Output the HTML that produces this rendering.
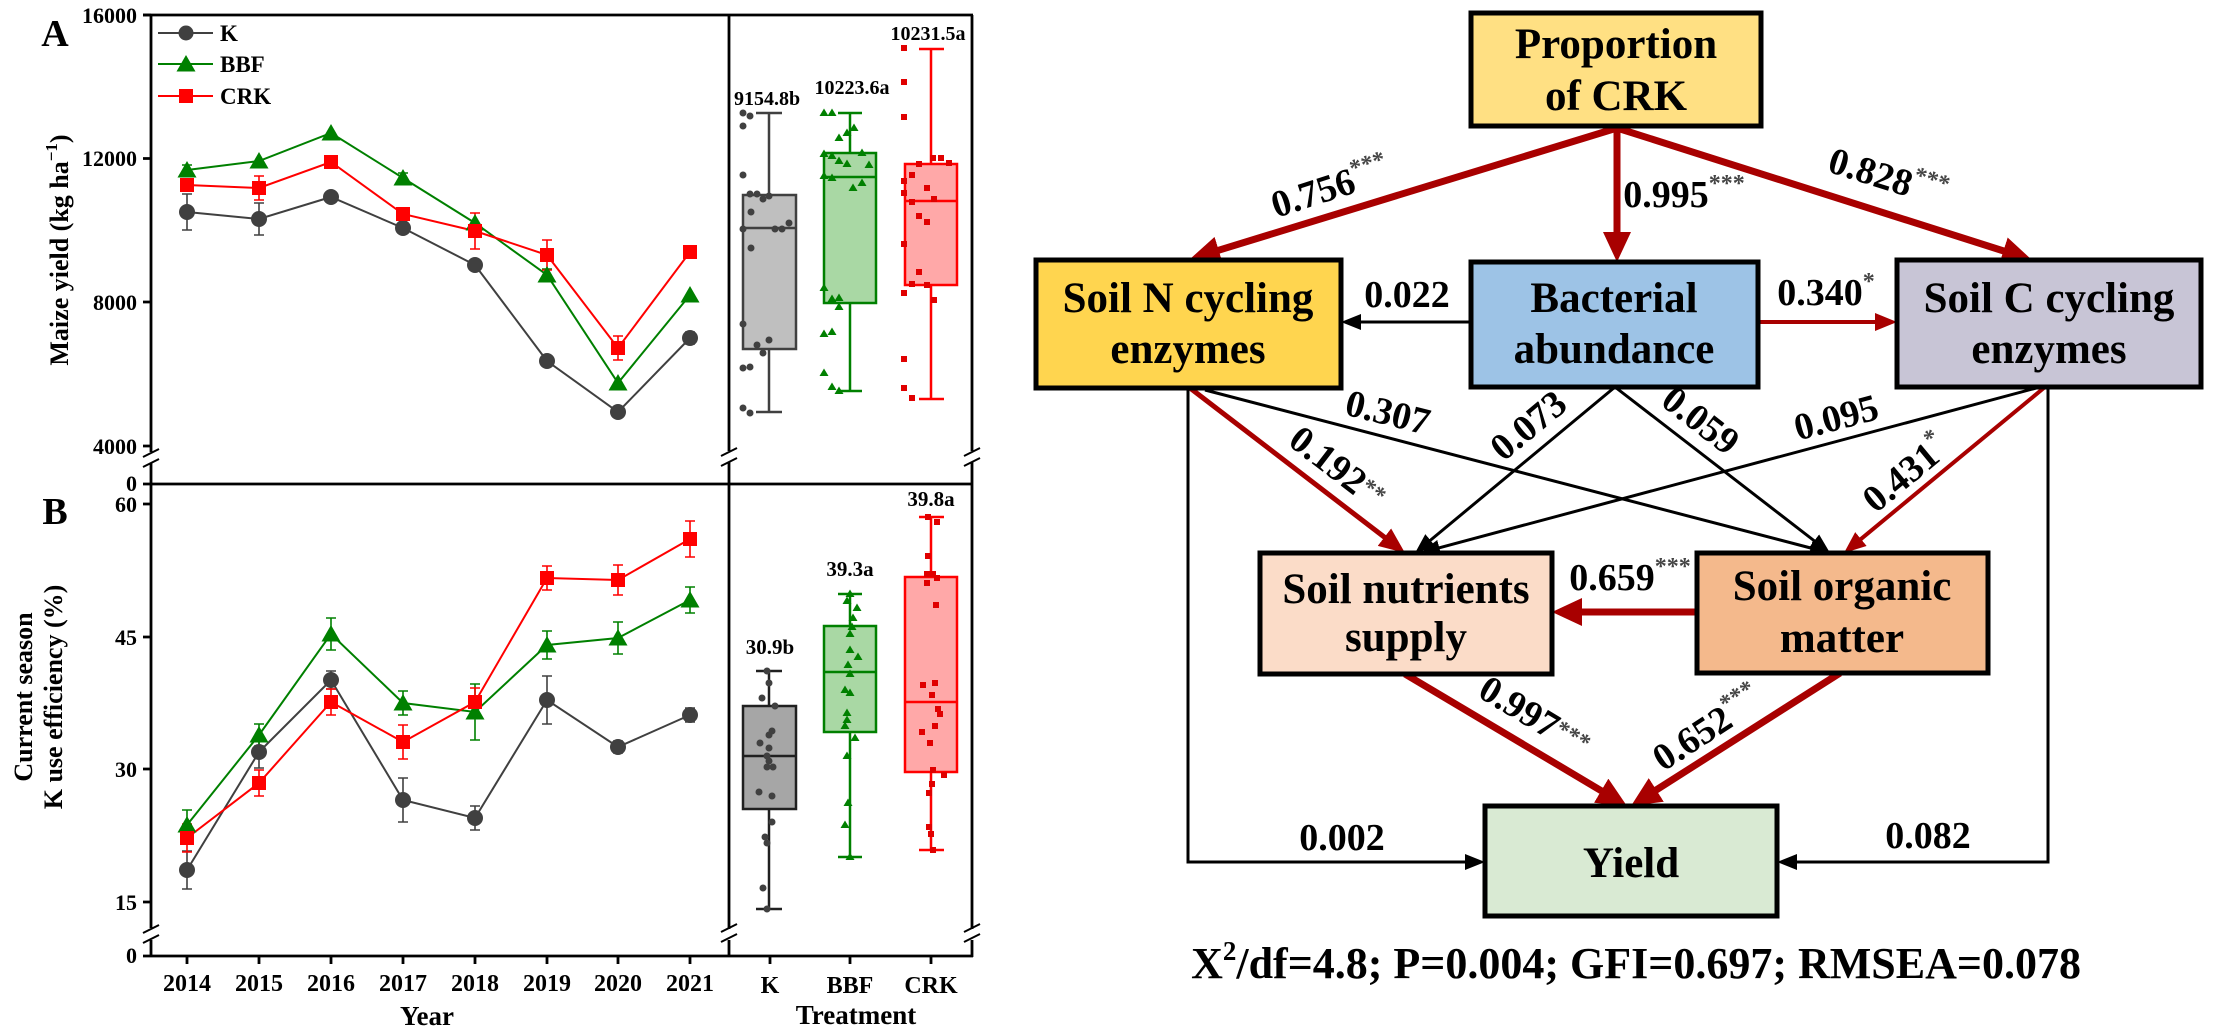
<!DOCTYPE html>
<html><head><meta charset="utf-8"><style>
html,body{margin:0;padding:0;background:#fff;}
svg{display:block;}
text{font-family:"Liberation Serif",serif;font-weight:bold;}
</style></head><body>
<svg width="2213" height="1032" viewBox="0 0 2213 1032" xmlns="http://www.w3.org/2000/svg">
<defs>
<path id="triL" d="M0,-10 L9.5,6.5 L-9.5,6.5z"/>
<path id="triS" d="M0,-4.5 L4.5,3 L-4.5,3z"/>
<marker id="rb" markerUnits="userSpaceOnUse" markerWidth="32" markerHeight="30" refX="2" refY="14" orient="auto"><path d="M0,0 L30,14 L0,28z" fill="#a80000"/></marker>
<marker id="rm" markerUnits="userSpaceOnUse" markerWidth="28" markerHeight="24" refX="2" refY="11" orient="auto"><path d="M0,0 L26,11 L0,22z" fill="#a80000"/></marker>
<marker id="rs" markerUnits="userSpaceOnUse" markerWidth="24" markerHeight="20" refX="2" refY="9" orient="auto"><path d="M0,0 L22,9 L0,18z" fill="#a80000"/></marker>
<marker id="bk" markerUnits="userSpaceOnUse" markerWidth="22" markerHeight="18" refX="2" refY="8" orient="auto"><path d="M0,0 L20,8 L0,16z" fill="#000"/></marker>
</defs>

<!-- ===== LEFT CHARTS ===== -->
<g stroke="#000" stroke-width="2.8" fill="none">
<path d="M143 15H973M143 484H973M143 956H973"/>
<path d="M151 15V452M151 463V928M151 940V957"/>
<path d="M729 15V451M729 462V929M729 940V957"/>
<path d="M972 15V451M972 462V929M972 940V957"/>
<path d="M143 457L159 449M143 467L159 459M143 933L159 925M143 943L159 935" stroke-width="2"/>
<path d="M721 456L737 448M721 466L737 458M721 932L737 924M721 942L737 934" stroke-width="2"/>
<path d="M964 456L980 448M964 466L980 458M964 932L980 924M964 942L980 934" stroke-width="2"/>
<path d="M143 15H151M143 158.5H151M143 302H151M143 446H151M143 504H151M143 637H151M143 769H151M143 902H151"/>
<path d="M187 956V964M259 956V964M331 956V964M403 956V964M475 956V964M547 956V964M618 956V964M690 956V964M770 956V964M850 956V964M931 956V964"/>
</g>
<g font-size="22" text-anchor="end" fill="#000">
<text x="137" y="23">16000</text>
<text x="137" y="166">12000</text>
<text x="137" y="310">8000</text>
<text x="137" y="454">4000</text>
<text x="137" y="491">0</text>
<text x="137" y="512">60</text>
<text x="137" y="645">45</text>
<text x="137" y="777">30</text>
<text x="137" y="910">15</text>
<text x="137" y="963">0</text>
</g>
<g font-size="24" text-anchor="middle">
<text x="187" y="991">2014</text><text x="259" y="991">2015</text><text x="331" y="991">2016</text><text x="403" y="991">2017</text>
<text x="475" y="991">2018</text><text x="547" y="991">2019</text><text x="618" y="991">2020</text><text x="690" y="991">2021</text>
<text x="770" y="993">K</text><text x="850" y="993">BBF</text><text x="931" y="993">CRK</text>
<text x="427" y="1025" font-size="27">Year</text>
<text x="856" y="1024" font-size="27">Treatment</text>
</g>
<text x="55" y="46" font-size="38" text-anchor="middle">A</text>
<text x="55" y="524" font-size="38" text-anchor="middle">B</text>
<text transform="translate(68,250) rotate(-90)" font-size="26" text-anchor="middle">Maize yield (kg ha<tspan font-size="17" dy="-11">−1</tspan><tspan dy="11">)</tspan></text>
<text transform="translate(32,697) rotate(-90)" font-size="26" text-anchor="middle">Current season</text>
<text transform="translate(62,697) rotate(-90)" font-size="26" text-anchor="middle">K use efficiency (%)</text>

<!-- legend -->
<g stroke-width="2">
<line x1="158" y1="33" x2="213" y2="33" stroke="#404040"/>
<line x1="158" y1="64" x2="213" y2="64" stroke="#008000"/>
<line x1="158" y1="96" x2="213" y2="96" stroke="#ff0000"/>
</g>
<circle cx="186" cy="33" r="7.5" fill="#404040"/>
<use href="#triL" x="186" y="65" fill="#008000"/>
<rect x="179" y="89" width="14" height="14" fill="#ff0000"/>
<g font-size="23"><text x="220" y="41">K</text><text x="220" y="72">BBF</text><text x="220" y="104">CRK</text></g>

<!-- Panel A lines -->
<g fill="none" stroke-width="2">
<polyline stroke="#404040" points="187,212 259,219 331,197 403,228 475,265 547,361 618,412 690,338"/>
<path stroke="#404040" stroke-width="1.6" d="M187 194V230M182 194H192M182 230H192M259 203V235M254 203H264M254 235H264M331 192V202M326 192H336M326 202H336M403 224V232M398 224H408M398 232H408M475 261V269M470 261H480M470 269H480M547 356V366M542 356H552M542 366H552M618 408V416M613 408H623M613 416H623M690 332V344M685 332H695M685 344H695"/>
<polyline stroke="#008000" points="187,170 259,161 331,133 403,178 475,223 547,275 618,383 690,295"/>
<path stroke="#008000" stroke-width="1.6" d="M187 165V175M182 165H192M182 175H192M259 158V164M403 173V183M398 173H408M398 183H408M475 219V227M547 269V281M542 269H552M542 281H552M618 379V387M690 292V298"/>
<polyline stroke="#ff0000" points="187,185 259,188 331,162 403,214 475,231 547,255 618,348 690,252"/>
<path stroke="#ff0000" stroke-width="1.6" d="M187 179V191M182 179H192M182 191H192M259 176V200M254 176H264M254 200H264M331 158V166M403 209V219M398 209H408M398 219H408M475 213V249M470 213H480M470 249H480M547 240V270M542 240H552M542 270H552M618 336V360M613 336H623M613 360H623M690 246V258M685 246H695M685 258H695"/>
</g>
<g fill="#404040">
<circle cx="187" cy="212" r="8"/><circle cx="259" cy="219" r="8"/><circle cx="331" cy="197" r="8"/><circle cx="403" cy="228" r="8"/><circle cx="475" cy="265" r="8"/><circle cx="547" cy="361" r="8"/><circle cx="618" cy="412" r="8"/><circle cx="690" cy="338" r="8"/>
</g>
<g fill="#008000">
<use href="#triL" x="187" y="171"/><use href="#triL" x="259" y="162"/><use href="#triL" x="331" y="134"/><use href="#triL" x="403" y="179"/><use href="#triL" x="475" y="224"/><use href="#triL" x="547" y="276"/><use href="#triL" x="618" y="384"/><use href="#triL" x="690" y="296"/>
</g>
<g fill="#ff0000">
<rect x="180" y="178" width="14" height="14"/><rect x="252" y="181" width="14" height="14"/><rect x="324" y="155" width="14" height="14"/><rect x="396" y="207" width="14" height="14"/><rect x="468" y="224" width="14" height="14"/><rect x="540" y="248" width="14" height="14"/><rect x="611" y="341" width="14" height="14"/><rect x="683" y="245" width="14" height="14"/>
</g>

<!-- Panel B lines -->
<g fill="none" stroke-width="2">
<polyline stroke="#404040" points="187,870 259,752 331,680 403,800 475,818 547,700 618,747 690,715"/>
<path stroke="#404040" stroke-width="1.6" d="M187 851V889M182 851H192M182 889H192M259 736V768M254 736H264M254 768H264M331 671V689M326 671H336M326 689H336M403 778V822M398 778H408M398 822H408M475 806V830M470 806H480M470 830H480M547 676V724M542 676H552M542 724H552M618 741V753M613 741H623M613 753H623M690 708V722M685 708H695M685 722H695"/>
<polyline stroke="#008000" points="187,825 259,735 331,634 403,703 475,712 547,645 618,638 690,600"/>
<path stroke="#008000" stroke-width="1.6" d="M187 810V840M182 810H192M182 840H192M259 724V746M254 724H264M254 746H264M331 618V650M326 618H336M326 650H336M403 691V715M398 691H408M398 715H408M475 684V740M470 684H480M470 740H480M547 631V659M542 631H552M542 659H552M618 622V654M613 622H623M613 654H623M690 587V613M685 587H695M685 613H695"/>
<polyline stroke="#ff0000" points="187,838 259,783 331,702 403,742 475,702 547,578 618,580 690,539"/>
<path stroke="#ff0000" stroke-width="1.6" d="M187 824V852M182 824H192M182 852H192M259 770V796M254 770H264M254 796H264M331 689V715M326 689H336M326 715H336M403 725V759M398 725H408M398 759H408M475 688V716M470 688H480M470 716H480M547 566V590M542 566H552M542 590H552M618 565V595M613 565H623M613 595H623M690 521V557M685 521H695M685 557H695"/>
</g>
<g fill="#404040">
<circle cx="187" cy="870" r="8"/><circle cx="259" cy="752" r="8"/><circle cx="331" cy="680" r="8"/><circle cx="403" cy="800" r="8"/><circle cx="475" cy="818" r="8"/><circle cx="547" cy="700" r="8"/><circle cx="618" cy="747" r="8"/><circle cx="690" cy="715" r="8"/>
</g>
<g fill="#008000">
<use href="#triL" x="187" y="826"/><use href="#triL" x="259" y="736"/><use href="#triL" x="331" y="635"/><use href="#triL" x="403" y="704"/><use href="#triL" x="475" y="713"/><use href="#triL" x="547" y="646"/><use href="#triL" x="618" y="639"/><use href="#triL" x="690" y="601"/>
</g>
<g fill="#ff0000">
<rect x="180" y="831" width="14" height="14"/><rect x="252" y="776" width="14" height="14"/><rect x="324" y="695" width="14" height="14"/><rect x="396" y="735" width="14" height="14"/><rect x="468" y="695" width="14" height="14"/><rect x="540" y="571" width="14" height="14"/><rect x="611" y="573" width="14" height="14"/><rect x="683" y="532" width="14" height="14"/>
</g>

<!-- Box plots A -->
<g stroke-width="2.5">
<rect x="743" y="195" width="53" height="154" fill="#bfbfbf" stroke="#404040"/>
<path d="M743 228H796M769 113V195M769 349V412M756 113H782M756 412H782" stroke="#404040" fill="none"/>
<rect x="824" y="153" width="52" height="150" fill="#a9d8a4" stroke="#008000"/>
<path d="M824 177H876M850 113V153M850 303V391M838 113H862M838 391H862" stroke="#008000" fill="none"/>
<rect x="905" y="164" width="52" height="121" fill="#ffa8a8" stroke="#ff0000"/>
<path d="M905 201H957M931 49V164M931 285V399M919 49H944M919 399H944" stroke="#ff0000" fill="none"/>
</g>
<g fill="#404040">
<circle cx="743" cy="113" r="3.5"/><circle cx="750" cy="116" r="3.5"/><circle cx="743" cy="126" r="3.5"/><circle cx="743" cy="175" r="3.5"/><circle cx="750" cy="194" r="3.5"/><circle cx="757" cy="194" r="3.5"/><circle cx="763" cy="199" r="3.5"/><circle cx="769" cy="196" r="3.5"/><circle cx="751" cy="212" r="3.5"/><circle cx="743" cy="229" r="3.5"/><circle cx="775" cy="229" r="3.5"/><circle cx="782" cy="229" r="3.5"/><circle cx="789" cy="223" r="3.5"/><circle cx="751" cy="248" r="3.5"/><circle cx="743" cy="324" r="3.5"/><circle cx="757" cy="345" r="3.5"/><circle cx="763" cy="353" r="3.5"/><circle cx="769" cy="340" r="3.5"/><circle cx="743" cy="368" r="3.5"/><circle cx="750" cy="367" r="3.5"/><circle cx="743" cy="408" r="3.5"/><circle cx="750" cy="413" r="3.5"/>
</g>
<g fill="#008000">
<use href="#triS" x="824" y="113"/><use href="#triS" x="832" y="113"/><use href="#triS" x="854" y="128"/><use href="#triS" x="847" y="133"/><use href="#triS" x="839" y="138"/><use href="#triS" x="824" y="154"/><use href="#triS" x="832" y="156"/><use href="#triS" x="839" y="161"/><use href="#triS" x="847" y="164"/><use href="#triS" x="862" y="153"/><use href="#triS" x="869" y="165"/><use href="#triS" x="824" y="176"/><use href="#triS" x="832" y="178"/><use href="#triS" x="853" y="188"/><use href="#triS" x="862" y="183"/><use href="#triS" x="824" y="288"/><use href="#triS" x="832" y="299"/><use href="#triS" x="839" y="298"/><use href="#triS" x="839" y="307"/><use href="#triS" x="824" y="334"/><use href="#triS" x="832" y="332"/><use href="#triS" x="824" y="373"/><use href="#triS" x="832" y="387"/><use href="#triS" x="839" y="391"/>
</g>
<g fill="#e00000">
<rect x="901" y="45" width="6" height="6"/><rect x="901" y="79" width="6" height="6"/><rect x="901" y="114" width="6" height="6"/><rect x="930" y="155" width="6" height="6"/><rect x="938" y="155" width="6" height="6"/><rect x="946" y="160" width="6" height="6"/><rect x="916" y="161" width="6" height="6"/><rect x="909" y="172" width="6" height="6"/><rect x="901" y="178" width="6" height="6"/><rect x="924" y="185" width="6" height="6"/><rect x="901" y="190" width="6" height="6"/><rect x="909" y="199" width="6" height="6"/><rect x="931" y="196" width="6" height="6"/><rect x="916" y="213" width="6" height="6"/><rect x="924" y="219" width="6" height="6"/><rect x="901" y="241" width="6" height="6"/><rect x="916" y="269" width="6" height="6"/><rect x="909" y="281" width="6" height="6"/><rect x="924" y="282" width="6" height="6"/><rect x="901" y="290" width="6" height="6"/><rect x="931" y="297" width="6" height="6"/><rect x="901" y="356" width="6" height="6"/><rect x="901" y="385" width="6" height="6"/><rect x="909" y="395" width="6" height="6"/>
</g>
<g font-size="20" text-anchor="middle">
<text x="767" y="105">9154.8b</text><text x="852" y="94">10223.6a</text><text x="928" y="40">10231.5a</text>
</g>

<!-- Box plots B -->
<g stroke-width="2.5">
<rect x="743" y="706" width="53" height="103" fill="#a6a6a6" stroke="#202020"/>
<path d="M743 756H796M769 671V706M769 809V909M756 671H782M756 909H782" stroke="#202020" fill="none"/>
<rect x="824" y="626" width="52" height="106" fill="#a9d8a4" stroke="#008000"/>
<path d="M824 672H876M850 594V626M850 732V857M838 594H862M838 857H862" stroke="#008000" fill="none"/>
<rect x="905" y="577" width="52" height="195" fill="#ffa8a8" stroke="#ff0000"/>
<path d="M905 702H957M931 517V577M931 772V850M919 517H944M919 850H944" stroke="#ff0000" fill="none"/>
</g>
<g fill="#404040">
<circle cx="767" cy="671" r="3.5"/><circle cx="769" cy="683" r="3.5"/><circle cx="762" cy="698" r="3.5"/><circle cx="775" cy="706" r="3.5"/><circle cx="772" cy="731" r="3.5"/><circle cx="769" cy="735" r="3.5"/><circle cx="760" cy="743" r="3.5"/><circle cx="769" cy="748" r="3.5"/><circle cx="767" cy="756" r="3.5"/><circle cx="769" cy="761" r="3.5"/><circle cx="773" cy="767" r="3.5"/><circle cx="767" cy="767" r="3.5"/><circle cx="759" cy="792" r="3.5"/><circle cx="772" cy="796" r="3.5"/><circle cx="772" cy="822" r="3.5"/><circle cx="765" cy="837" r="3.5"/><circle cx="767" cy="843" r="3.5"/><circle cx="763" cy="888" r="3.5"/><circle cx="767" cy="909" r="3.5"/>
</g>
<g fill="#008000">
<use href="#triS" x="850" y="594"/><use href="#triS" x="847" y="601"/><use href="#triS" x="857" y="608"/><use href="#triS" x="853" y="618"/><use href="#triS" x="852" y="627"/><use href="#triS" x="850" y="634"/><use href="#triS" x="850" y="650"/><use href="#triS" x="858" y="657"/><use href="#triS" x="848" y="665"/><use href="#triS" x="850" y="674"/><use href="#triS" x="845" y="690"/><use href="#triS" x="850" y="693"/><use href="#triS" x="847" y="713"/><use href="#triS" x="847" y="720"/><use href="#triS" x="845" y="726"/><use href="#triS" x="855" y="738"/><use href="#triS" x="847" y="756"/><use href="#triS" x="848" y="803"/><use href="#triS" x="845" y="825"/><use href="#triS" x="850" y="857"/>
</g>
<g fill="#e00000">
<rect x="925" y="514" width="6" height="6"/><rect x="934" y="519" width="6" height="6"/><rect x="925" y="553" width="6" height="6"/><rect x="924" y="571" width="6" height="6"/><rect x="930" y="571" width="6" height="6"/><rect x="934" y="575" width="6" height="6"/><rect x="924" y="580" width="6" height="6"/><rect x="933" y="602" width="6" height="6"/><rect x="920" y="682" width="6" height="6"/><rect x="932" y="680" width="6" height="6"/><rect x="929" y="692" width="6" height="6"/><rect x="935" y="706" width="6" height="6"/><rect x="937" y="711" width="6" height="6"/><rect x="932" y="723" width="6" height="6"/><rect x="919" y="729" width="6" height="6"/><rect x="927" y="740" width="6" height="6"/><rect x="930" y="767" width="6" height="6"/><rect x="941" y="772" width="6" height="6"/><rect x="929" y="781" width="6" height="6"/><rect x="926" y="790" width="6" height="6"/><rect x="926" y="824" width="6" height="6"/><rect x="928" y="831" width="6" height="6"/><rect x="930" y="847" width="6" height="6"/>
</g>
<g font-size="21" text-anchor="middle">
<text x="770" y="654">30.9b</text><text x="850" y="576">39.3a</text><text x="931" y="506">39.8a</text>
</g>

<!-- ===== RIGHT DIAGRAM ===== -->
<!-- arrows -->
<g fill="none">
<line x1="1617" y1="128" x2="1216.8" y2="250.8" stroke="#a80000" stroke-width="7" marker-end="url(#rb)"/>
<line x1="1617" y1="128" x2="1617" y2="234" stroke="#a80000" stroke-width="7" marker-end="url(#rb)"/>
<line x1="1617" y1="128" x2="2005.3" y2="251.5" stroke="#a80000" stroke-width="7" marker-end="url(#rb)"/>
<line x1="1471" y1="322" x2="1359" y2="322" stroke="#000" stroke-width="3" marker-end="url(#bk)"/>
<line x1="1758" y1="322" x2="1877" y2="322" stroke="#a80000" stroke-width="4" marker-end="url(#rs)"/>
<line x1="1190" y1="388" x2="1386" y2="538.4" stroke="#a80000" stroke-width="5" marker-end="url(#rm)"/>
<line x1="1205" y1="390" x2="1812.6" y2="548.5" stroke="#000" stroke-width="3" marker-end="url(#bk)"/>
<line x1="1615" y1="387" x2="1428.9" y2="541.5" stroke="#000" stroke-width="3" marker-end="url(#bk)"/>
<line x1="1615" y1="387" x2="1815.8" y2="542" stroke="#000" stroke-width="3" marker-end="url(#bk)"/>
<line x1="2040" y1="387" x2="1437.4" y2="548.3" stroke="#000" stroke-width="3" marker-end="url(#bk)"/>
<line x1="2045" y1="387" x2="1859.4" y2="540.3" stroke="#a80000" stroke-width="4" marker-end="url(#rs)"/>
<line x1="1697" y1="612" x2="1580" y2="612" stroke="#a80000" stroke-width="7" marker-end="url(#rb)"/>
<line x1="1405" y1="674" x2="1602.9" y2="791.7" stroke="#a80000" stroke-width="7" marker-end="url(#rb)"/>
<line x1="1840" y1="673" x2="1654.6" y2="791" stroke="#a80000" stroke-width="7" marker-end="url(#rb)"/>
<polyline points="1188,388 1188,862 1467,862" stroke="#000" stroke-width="3" marker-end="url(#bk)"/>
<polyline points="2048,387 2048,862 1795,862" stroke="#000" stroke-width="3" marker-end="url(#bk)"/>
</g>

<!-- boxes -->
<g stroke="#000" stroke-width="5">
<rect x="1471" y="13" width="290" height="113" fill="#ffe083"/>
<rect x="1036" y="260" width="305" height="128" fill="#ffd54f"/>
<rect x="1471" y="262" width="287" height="125" fill="#9dc3e6"/>
<rect x="1897" y="260" width="304" height="127" fill="#c8c5d6"/>
<rect x="1260" y="553" width="292" height="121" fill="#fbdcc8"/>
<rect x="1697" y="553" width="291" height="120" fill="#f4b98c"/>
<rect x="1485" y="806" width="292" height="110" fill="#d9ead3"/>
</g>
<g font-size="43" text-anchor="middle" fill="#000">
<text x="1616" y="58">Proportion</text><text x="1616" y="110">of CRK</text>
<text x="1188" y="312">Soil N cycling</text><text x="1188" y="363">enzymes</text>
<text x="1614" y="312">Bacterial</text><text x="1614" y="363">abundance</text>
<text x="2049" y="312">Soil C cycling</text><text x="2049" y="363">enzymes</text>
<text x="1406" y="603">Soil nutrients</text><text x="1406" y="651">supply</text>
<text x="1842" y="600">Soil organic</text><text x="1842" y="652">matter</text>
<text x="1631" y="877">Yield</text>
</g>

<!-- path coefficients -->
<g font-size="38" text-anchor="middle" fill="#000">
<text transform="translate(1330,187) rotate(-17.8)" y="13">0.756<tspan font-size="24" dy="-16" fill="#444">***</tspan></text>
<text x="1684" y="207">0.995<tspan font-size="24" dy="-16" fill="#444">***</tspan></text>
<text transform="translate(1888,177) rotate(17.4)" y="13">0.828<tspan font-size="24" dy="-16" fill="#444">***</tspan></text>
<text x="1407" y="307">0.022</text>
<text x="1826" y="305">0.340<tspan font-size="24" dy="-16" fill="#444">*</tspan></text>
<text transform="translate(1338,467) rotate(37.5)" y="13">0.192<tspan font-size="24" dy="-8" fill="#444">**</tspan></text>
<text transform="translate(1388,412) rotate(14)" y="13">0.307</text>
<text transform="translate(1528,425) rotate(-39.7)" y="13">0.073</text>
<text transform="translate(1701,420) rotate(37.7)" y="13">0.059</text>
<text transform="translate(1836,417) rotate(-15)" y="13">0.095</text>
<text transform="translate(1905,473) rotate(-39.5)" y="13">0.431<tspan font-size="24" dy="-16" fill="#444">*</tspan></text>
<text x="1630" y="590">0.659<tspan font-size="24" dy="-16" fill="#444">***</tspan></text>
<text transform="translate(1535,716) rotate(31)" y="13">0.997<tspan font-size="24" dy="-8" fill="#444">***</tspan></text>
<text transform="translate(1707,728) rotate(-33)" y="13">0.652<tspan font-size="24" dy="-16" fill="#444">***</tspan></text>
<text x="1342" y="850">0.002</text>
<text x="1928" y="848">0.082</text>
</g>
<text x="1636" y="978" font-size="44" text-anchor="middle">X<tspan font-size="27" dy="-18">2</tspan><tspan dy="18">/df=4.8; P=0.004; GFI=0.697; RMSEA=0.078</tspan></text>
</svg>
</body></html>
